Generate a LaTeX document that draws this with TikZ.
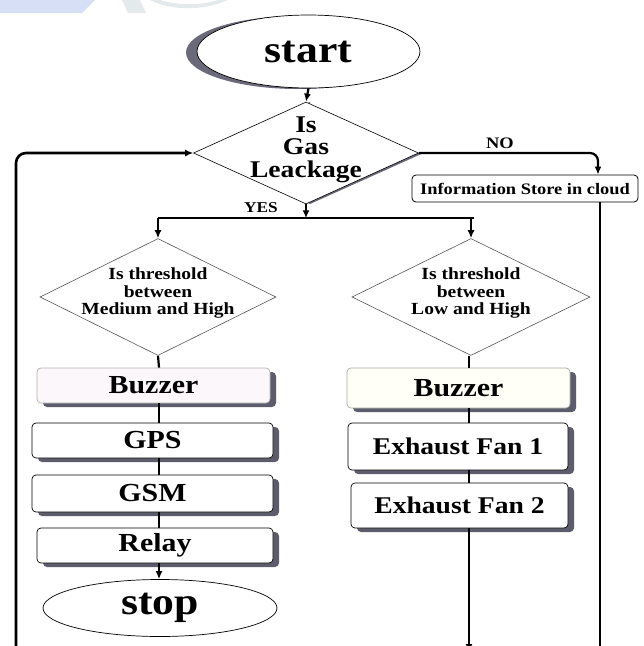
\documentclass[tikz,border=0pt]{standalone}
\usepackage{fontspec}
\setmainfont{Liberation Serif}[FakeStretch=1.15]
\usetikzlibrary{shapes.geometric,arrows.meta,shadows}
\definecolor{shadowgrey}{HTML}{5C5C6C}
\definecolor{startshadow}{HTML}{6A6A7A}
\definecolor{wmblue}{HTML}{D6DFF6}
\definecolor{wmgrey}{HTML}{E4EAEC}
\definecolor{diagline}{HTML}{555555}
\begin{document}
\begin{tikzpicture}[x=1pt,y=-1pt,
  conn/.style={line width=2.2pt,draw=black},
  arr/.style={conn,-{Latex[length=8pt,width=7pt]}},
  procbox/.style={draw=black,line width=0.7pt,rounded corners=4pt,fill=white,
    inner sep=0pt,font=\bfseries\fontsize{26}{28}\selectfont,
    general shadow={shadow xshift=6pt,shadow yshift=-4pt,fill=shadowgrey}},
  fanbox/.style={procbox,font=\bfseries\fontsize{24}{26}\selectfont},
  decide/.style={shape=diamond,draw=diagline,line width=0.6pt,fill=white,inner sep=0pt},
  dtext/.style={align=center,font=\bfseries\fontsize{17}{17.5}\selectfont},
  term/.style={shape=ellipse,draw=black,line width=0.7pt,fill=white,inner sep=0pt,
    font=\bfseries\fontsize{38}{40}\selectfont},
  lbl/.style={font=\bfseries\fontsize{15}{16}\selectfont}
]
\useasboundingbox (0,0) rectangle (644,646);
\clip (0,0) rectangle (644,646);
% faint watermark at the top
\fill[wmblue] (0,0) -- (95,0) -- (82,13) -- (0,13) -- cycle;
\fill[wmgrey] (122,0) -- (140,0) -- (146,13) -- (128,13) -- cycle;
\fill[wmgrey] (150,0) .. controls (170,10) and (200,12) .. (228,0) -- (218,0) .. controls (200,6) and (175,5) .. (160,0) -- cycle;

% start terminator with crescent shadow
\fill[startshadow] (298,52.5) ellipse [x radius=112, y radius=36.5];
\node[term,minimum width=223,minimum height=73] (start) at (308.5,51.5) {start};

% gas leakage decision
\fill[startshadow] (310,153) -- ++(113.5,0) -- ++(-113.5,51) -- ++(-113.5,-51) -- ++(113.5,-51) -- cycle;
\node[decide,draw=black,minimum width=225,minimum height=102] (gas) at (306,153) {};
\node[align=center,font=\bfseries\fontsize{24}{22.5}\selectfont] (gastext) at (306,149.5) {Is\\Gas\\Leackage};

% information store
\node[draw=black,line width=0.8pt,rounded corners=4pt,fill=white,minimum width=226,minimum height=27,inner sep=0pt,
  font=\bfseries\fontsize{16}{17}\selectfont] (info) at (525,188.5) {Information Store in cloud};

% threshold decisions
\node[decide,minimum width=236,minimum height=117] (ldia) at (158,297) {};
\node[dtext] (ldiatext) at (158,293) {Is threshold\\between\\Medium and High};
\node[decide,minimum width=238,minimum height=117] (rdia) at (471,297) {};
\node[dtext] (rdiatext) at (471,293) {Is threshold\\between\\Low and High};

% left chain
\node[procbox,draw=gray!60,fill=violet!3,minimum width=233,minimum height=35] (lbuz) at (153.5,385.5) {Buzzer};
\node[procbox,minimum width=241,minimum height=35] (gps) at (152.5,440.5) {GPS};
\node[procbox,minimum width=241,minimum height=37] (gsm) at (152.5,493.5) {GSM};
\node[procbox,minimum width=236,minimum height=35] (relay) at (155,545.5) {Relay};
\node[term,minimum width=234,minimum height=57] (stop) at (160,608) {stop};

% right chain
\node[procbox,draw=gray!70,fill=yellow!3,minimum width=223,minimum height=40] (rbuz) at (458.5,388) {Buzzer};
\node[fanbox,minimum width=220,minimum height=47] (fan1) at (458,446.5) {Exhaust Fan 1};
\node[fanbox,minimum width=217,minimum height=45] (fan2) at (459.5,505.5) {Exhaust Fan 2};

% coordinates for junctions and free ends
\coordinate (yesline) at (306,218);
\coordinate (lcol) at (159,0);
\coordinate (rcol) at (469,0);
\coordinate (loopbot) at (16,652);
\coordinate (noin) at (598,0);
\coordinate (infoout) at (600,0);

% connectors
\draw[arr] (start.south) -- (gas.north);
\draw[arr] (gas.south) -- ++(0,14);
\draw[conn] (ldia.north |- yesline) -- ([xshift=3pt]rdia.north |- yesline);
\draw[arr] (ldia.north |- yesline) -- (ldia.north);
\draw[arr] (rdia.north |- yesline) -- (rdia.north);
\node[lbl] (yes) at (261,208) {YES};

\draw[arr,line width=2.6pt,rounded corners=10pt] (loopbot) |- (gas.west);
\draw[arr,rounded corners=8pt] (gas.east) -| (noin |- info.north);
\node[lbl,font=\bfseries\fontsize{16}{17}\selectfont] (no) at (500,143) {NO};
\draw[conn] (infoout |- info.south) -- (infoout |- loopbot);

\draw[conn] (ldia.south) -- (lcol |- lbuz.north);
\draw[conn] (lcol |- lbuz.south) -- (lcol |- gps.north);
\draw[conn] (lcol |- gps.south) -- (lcol |- gsm.north);
\draw[conn] (lcol |- gsm.south) -- (lcol |- relay.north);
\draw[arr] (lcol |- relay.south) -- (lcol |- stop.north);

\draw[conn] (rcol |- rdia.south) -- (rcol |- rbuz.north);
\draw[conn] (rcol |- rbuz.south) -- (rcol |- fan1.north);
\draw[conn] (rcol |- fan1.south) -- (rcol |- fan2.north);
\draw[arr] (rcol |- fan2.south) -- (rcol |- loopbot);
\end{tikzpicture}
\end{document}
